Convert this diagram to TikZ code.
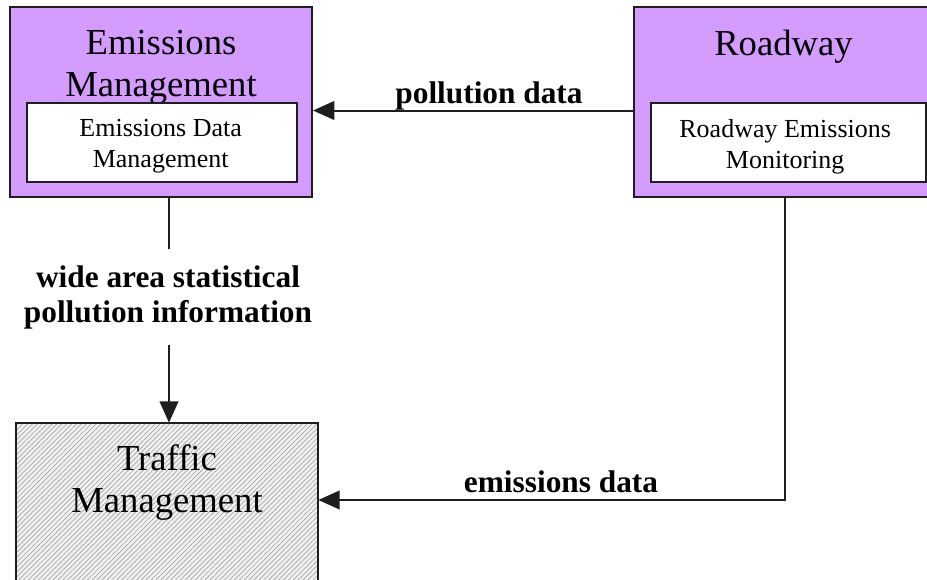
\documentclass[tikz,border=0pt]{standalone}
\usepackage{fontspec}
\setmainfont{Liberation Serif}
\usetikzlibrary{arrows.meta, positioning, patterns.meta}
\definecolor{purplefill}{RGB}{213,156,255}
\definecolor{edgegray}{RGB}{30,30,30}

\begin{document}
\begin{tikzpicture}[
    x=0.75pt, y=-0.75pt,
    outerbox/.style={draw=edgegray, line width=1.5pt, fill=purplefill, minimum width=226.5pt,
        minimum height=142.5pt, inner sep=0pt},
    innerbox/.style={draw=edgegray, line width=1.5pt, fill=white, inner sep=0pt,
        minimum width=202.5pt, minimum height=59.25pt},
    innertext/.style={align=center, inner sep=0pt, yshift=-3pt, font=\fontsize{19.5}{23.25}\selectfont},
    title/.style={align=center, inner sep=0pt, font=\fontsize{27.5}{31.5}\selectfont},
    flowlabel/.style={align=center, inner sep=0pt, font=\bfseries\fontsize{23.5}{26.25}\selectfont},
    flow/.style={-{Triangle[length=16pt, width=14pt]}, line width=1.5pt, draw=edgegray}
]
\useasboundingbox (0,0) rectangle (927,579);
\clip (0,0) rectangle (927,579);
% subsystems
\node[outerbox] (emis) at (161,102) {};
\node[title] (emistitle) at (161,67) {Emissions\\Management};
\node[innerbox] (emisdata) at (162,142.5) {};
\node[innertext] (emisdatatext) at ([xshift=-1pt]emisdata.center) {Emissions Data\\Management};
\node[outerbox, minimum width=229.5pt] (road) at (787,102) {};
\node[title, anchor=base] (roadtitle) at (783.5,55) {Roadway};
\node[innerbox, minimum width=206.25pt] (roadmon) at (788.5,142.5) {};
\node[innertext] (roadmontext) at ([xshift=-2.5pt]roadmon.center) {Roadway Emissions\\Monitoring};
\node[draw=edgegray, line width=1.5pt, minimum width=226.5pt, minimum height=150pt,
    preaction={fill=gray!12}, pattern={Lines[angle=45, distance=2.6pt, line width=0.5pt]},
    pattern color=gray!70] (traffic) at (167,523) {};
\node[title] (traffictitle) at (167,483) {Traffic\\Management};
% flows
\coordinate (pdrow) at (0,110.5);
\coordinate (edrow) at (0,500);
\draw[flow] (road.west |- pdrow) -- node[flowlabel, anchor=base, pos=0.45, yshift=5.5pt] (pdlabel) {pollution data} (emis.east |- pdrow);
\node[flowlabel, inner ysep=12pt] (widelabel) at (168,297) {wide area statistical\\pollution information};
\draw[line width=1.5pt, draw=edgegray] (emis.south -| 169,0) -- (widelabel.north -| 169,0);
\draw[flow] (widelabel.south -| 169,0) -- (traffic.north -| 169,0);
\draw[flow] (road.south -| 785,0) |- (traffic.east |- edrow);
\node[flowlabel, anchor=base] (edlabel) at (561,492) {emissions data};
\end{tikzpicture}
\end{document}
